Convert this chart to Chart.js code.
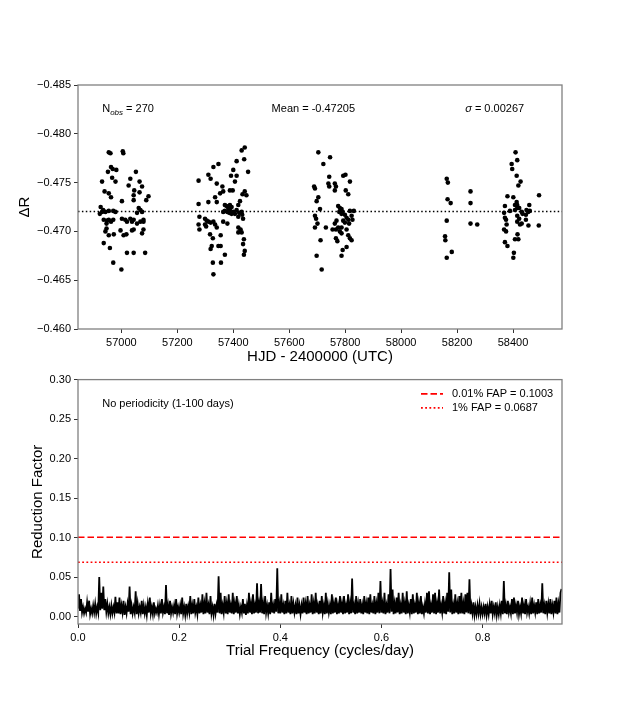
<!DOCTYPE html>
<html><head><meta charset="utf-8">
<script src="https://cdn.jsdelivr.net/npm/chart.js@4.4.1/dist/chart.umd.min.js"></script>
<style>
html,body{margin:0;padding:0;background:#fff;width:624px;height:702px;overflow:hidden;}
#top{position:absolute;left:0;top:0;width:624px;height:370px;}
#bot{position:absolute;left:0;top:370px;width:624px;height:332px;}
</style></head><body>
<div id="top"><canvas id="c1"></canvas></div>
<div id="bot"><canvas id="c2"></canvas></div>
<script>
// ---------- data ----------
const hjdSeason1 = [56955,56961,57005,57007,56963,56969,56982,56952,56931,56967,56979,57032,57052,57026,57065,57074,57046,56940,56955,56963,57044,57065,57097,57089,57002,57044,56926,56935,56931,56923,56943,56955,56971,56979,57062,57068,57074,57056,56937,56949,56955,56963,56947,56971,57002,57014,57020,57032,57038,57044,57056,57068,57079,57079,56947,56943,56955,56973,56997,57008,57018,57038,57044,57079,57074,56937,56959,57020,57044,57085,56971,57000];
const dRSeason1 = [-0.4781,-0.4780,-0.4782,-0.4780,-0.4766,-0.4764,-0.4763,-0.4761,-0.4751,-0.4755,-0.4751,-0.4754,-0.4761,-0.4747,-0.4751,-0.4746,-0.4742,-0.4741,-0.4739,-0.4735,-0.4737,-0.4740,-0.4736,-0.4732,-0.4731,-0.4732,-0.4725,-0.4722,-0.4720,-0.4718,-0.4720,-0.4721,-0.4721,-0.4720,-0.4724,-0.4722,-0.4720,-0.4719,-0.4712,-0.4711,-0.4712,-0.4710,-0.4708,-0.4712,-0.4713,-0.4712,-0.4710,-0.4713,-0.4710,-0.4712,-0.4708,-0.4710,-0.4710,-0.4712,-0.4703,-0.4700,-0.4696,-0.4697,-0.4701,-0.4696,-0.4697,-0.4701,-0.4702,-0.4702,-0.4698,-0.4688,-0.4683,-0.4678,-0.4678,-0.4678,-0.4668,-0.4661];

const hjdSeason2 = [57441,57430,57439,57412,57347,57329,57453,57400,57392,57412,57311,57319,57276,57406,57341,57361,57364,57398,57388,57353,57441,57447,57433,57335,57341,57311,57276,57424,57418,57370,57376,57388,57394,57382,57388,57379,57386,57394,57400,57370,57406,57412,57421,57430,57432,57435,57418,57364,57279,57299,57305,57311,57319,57299,57303,57329,57335,57341,57276,57279,57364,57379,57418,57426,57418,57430,57317,57327,57355,57438,57435,57323,57319,57347,57355,57370,57441,57438,57327,57356,57329];
const dRSeason2 = [-0.4786,-0.4783,-0.4774,-0.4772,-0.4769,-0.4766,-0.4761,-0.4763,-0.4757,-0.4757,-0.4758,-0.4754,-0.4752,-0.4751,-0.4749,-0.4746,-0.4741,-0.4742,-0.4742,-0.4739,-0.4741,-0.4737,-0.4738,-0.4735,-0.4730,-0.4730,-0.4728,-0.4731,-0.4727,-0.4727,-0.4726,-0.4727,-0.4725,-0.4724,-0.4722,-0.4720,-0.4719,-0.4718,-0.4720,-0.4721,-0.4718,-0.4722,-0.4719,-0.4720,-0.4717,-0.4713,-0.4715,-0.4720,-0.4715,-0.4713,-0.4711,-0.4710,-0.4709,-0.4707,-0.4705,-0.4710,-0.4707,-0.4704,-0.4707,-0.4702,-0.4710,-0.4708,-0.4704,-0.4702,-0.4699,-0.4699,-0.4697,-0.4693,-0.4696,-0.4692,-0.4687,-0.4685,-0.4682,-0.4685,-0.4685,-0.4676,-0.4680,-0.4676,-0.4668,-0.4668,-0.4656];

const hjdSeason3 = [57704,57746,57722,57743,57793,57801,57817,57740,57743,57763,57767,57763,57689,57692,57802,57811,57704,57698,57775,57781,57787,57791,57779,57710,57787,57817,57831,57799,57805,57811,57823,57826,57692,57696,57701,57692,57793,57799,57769,57763,57775,57814,57787,57731,57755,57767,57781,57787,57805,57811,57817,57823,57767,57772,57712,57805,57791,57787,57698,57716];
const dRSeason3 = [-0.4781,-0.4776,-0.4769,-0.4756,-0.4757,-0.4758,-0.4751,-0.4749,-0.4746,-0.4749,-0.4746,-0.4742,-0.4746,-0.4744,-0.4742,-0.4738,-0.4735,-0.4731,-0.4726,-0.4724,-0.4723,-0.4720,-0.4720,-0.4723,-0.4718,-0.4721,-0.4721,-0.4717,-0.4714,-0.4712,-0.4716,-0.4712,-0.4716,-0.4713,-0.4708,-0.4704,-0.4711,-0.4709,-0.4711,-0.4708,-0.4704,-0.4708,-0.4704,-0.4704,-0.4702,-0.4702,-0.4700,-0.4698,-0.4702,-0.4696,-0.4693,-0.4691,-0.4693,-0.4690,-0.4691,-0.4684,-0.4681,-0.4675,-0.4675,-0.4661];

const hjdSeason4 = [58163,58167,58166,58177,58163,58157,58158,58181,58163,58248,58248,58248,58272];
const dRSeason4 = [-0.4754,-0.4750,-0.4733,-0.4729,-0.4711,-0.4695,-0.4691,-0.4679,-0.4673,-0.4741,-0.4729,-0.4708,-0.4707];

const hjdSeason5 = [58409,58415,58395,58397,58413,58427,58419,58380,58401,58493,58413,58407,58371,58415,58422,58458,58407,58415,58389,58431,58448,58454,58460,58434,58368,58371,58375,58415,58422,58446,58415,58425,58446,58431,58377,58455,58492,58368,58375,58416,58419,58407,58371,58380,58403,58401];
const dRSeason5 = [-0.4781,-0.4773,-0.4769,-0.4764,-0.4757,-0.4751,-0.4747,-0.4736,-0.4735,-0.4737,-0.4730,-0.4727,-0.4726,-0.4727,-0.4724,-0.4727,-0.4722,-0.4724,-0.4721,-0.4720,-0.4722,-0.4720,-0.4721,-0.4718,-0.4719,-0.4714,-0.4712,-0.4716,-0.4713,-0.4717,-0.4710,-0.4707,-0.4712,-0.4708,-0.4707,-0.4706,-0.4706,-0.4702,-0.4700,-0.4697,-0.4692,-0.4692,-0.4689,-0.4685,-0.4678,-0.4673];

const nObs = 270;
const meanDeltaR = -0.47205;
const sigmaDeltaR = 0.00267;

const hjdTicks = [57000,57200,57400,57600,57800,58000,58200,58400];
const deltaRTicks = [-0.485,-0.480,-0.475,-0.470,-0.465,-0.460];
const hjdMin = 56845, hjdMax = 58575;
const deltaRMin = -0.485, deltaRMax = -0.460;

// periodogram: reduction factor on a uniform trial-frequency grid (0.002 cycles/day)
const freqStart = 0.0, freqStep = 0.002;
const reductionFactor = [
0.010,0.028,0.007,0.022,0.005,0.012,0.004,0.010,0.005,0.018,0.006,0.020,0.003,0.010,0.004,0.014,0.005,0.016,0.004,0.012,
0.005,0.050,0.008,0.030,0.010,0.038,0.008,0.022,0.006,0.016,0.004,0.012,0.003,0.014,0.004,0.012,0.005,0.025,0.004,0.018,
0.004,0.024,0.003,0.014,0.005,0.020,0.002,0.012,0.004,0.016,0.006,0.038,0.003,0.014,0.004,0.012,0.005,0.032,0.003,0.016,
0.004,0.012,0.005,0.020,0.003,0.014,0.004,0.012,0.002,0.016,0.005,0.024,0.004,0.012,0.003,0.018,0.004,0.010,0.005,0.014,
0.003,0.014,0.004,0.022,0.005,0.012,0.003,0.040,0.004,0.014,0.002,0.020,0.004,0.012,0.005,0.014,0.003,0.022,0.004,0.012,
0.005,0.014,0.003,0.024,0.004,0.012,0.002,0.016,0.004,0.013,0.005,0.026,0.003,0.014,0.004,0.022,0.005,0.012,0.003,0.024,
0.004,0.014,0.005,0.028,0.003,0.016,0.004,0.030,0.005,0.014,0.003,0.026,0.004,0.012,0.002,0.016,0.004,0.014,0.005,0.051,
0.004,0.030,0.003,0.014,0.005,0.026,0.004,0.016,0.003,0.028,0.005,0.014,0.004,0.030,0.003,0.016,0.005,0.026,0.004,0.014,
0.003,0.012,0.005,0.022,0.004,0.016,0.002,0.014,0.004,0.030,0.005,0.016,0.003,0.028,0.004,0.014,0.005,0.042,0.004,0.016,
0.005,0.041,0.004,0.016,0.003,0.026,0.005,0.014,0.004,0.018,0.003,0.030,0.005,0.014,0.004,0.022,0.006,0.061,0.004,0.016,
0.004,0.028,0.005,0.014,0.003,0.020,0.004,0.030,0.005,0.014,0.003,0.026,0.004,0.016,0.005,0.014,0.003,0.024,0.004,0.014,
0.003,0.014,0.004,0.024,0.005,0.016,0.003,0.026,0.004,0.014,0.005,0.028,0.003,0.016,0.004,0.030,0.005,0.014,0.003,0.020,
0.004,0.026,0.005,0.014,0.003,0.030,0.004,0.016,0.005,0.014,0.003,0.028,0.004,0.016,0.005,0.024,0.003,0.014,0.004,0.026,
0.005,0.016,0.003,0.026,0.004,0.014,0.005,0.028,0.003,0.016,0.004,0.048,0.005,0.014,0.003,0.026,0.004,0.016,0.005,0.022,
0.004,0.014,0.003,0.026,0.005,0.016,0.004,0.024,0.003,0.028,0.005,0.014,0.004,0.026,0.003,0.016,0.005,0.030,0.004,0.045,
0.005,0.016,0.004,0.030,0.003,0.014,0.005,0.028,0.004,0.060,0.006,0.034,0.003,0.016,0.004,0.024,0.005,0.030,0.003,0.014,
0.004,0.030,0.005,0.016,0.003,0.032,0.004,0.014,0.005,0.022,0.003,0.028,0.004,0.014,0.005,0.030,0.003,0.016,0.004,0.026,
0.003,0.012,0.004,0.016,0.005,0.030,0.004,0.032,0.003,0.014,0.005,0.028,0.004,0.030,0.003,0.016,0.005,0.034,0.004,0.014,
0.005,0.026,0.004,0.016,0.003,0.030,0.006,0.056,0.005,0.034,0.003,0.014,0.004,0.028,0.005,0.016,0.003,0.026,0.004,0.030,
0.004,0.016,0.003,0.028,0.005,0.030,0.004,0.047,0.003,0.014,0.004,0.018,0.002,0.012,0.003,0.014,0.004,0.016,0.003,0.012,
0.003,0.012,0.004,0.016,0.002,0.012,0.003,0.015,0.004,0.020,0.003,0.012,0.004,0.018,0.002,0.012,0.003,0.014,0.004,0.020,
0.003,0.045,0.004,0.014,0.003,0.020,0.005,0.012,0.004,0.022,0.003,0.024,0.004,0.014,0.005,0.020,0.003,0.012,0.004,0.024,
0.004,0.014,0.003,0.022,0.005,0.012,0.004,0.016,0.003,0.024,0.004,0.014,0.005,0.018,0.003,0.022,0.004,0.014,0.005,0.042,
0.004,0.014,0.003,0.020,0.005,0.016,0.004,0.022,0.003,0.014,0.005,0.020,0.004,0.024,0.003,0.016,0.005,0.030,0.035
];
const fap001 = 0.1003, fap1 = 0.0687;
const freqTicks = [0.0,0.2,0.4,0.6,0.8];
const rfTicks = [0.00,0.05,0.10,0.15,0.20,0.25,0.30];
const freqMin = 0.0, freqMax = 0.957;
const rfMin = -0.0095, rfMax = 0.30;

// ---------- styling ----------
const FONT = '"Liberation Sans", Arial, Helvetica, sans-serif';
Chart.defaults.font.family = FONT;
Chart.defaults.font.size = 11;
Chart.defaults.color = '#000';

const fixedTicks = list => scale => { scale.ticks = list.map(v => ({value: v})); };
const minusFmt = d => v => (v < 0 ? '\u2212' : '') + Math.abs(v).toFixed(d);

const gridOpts = {display:true, drawOnChartArea:false, drawTicks:true, tickLength:4, tickColor:'#333', tickWidth:1};

const framePlugin = {
  id:'frame',
  afterDatasetsDraw(chart){
    const {ctx, chartArea:a} = chart;
    ctx.save();
    ctx.strokeStyle = '#808080'; ctx.lineWidth = 1.3;
    ctx.strokeRect(a.left, a.top, a.right - a.left, a.bottom - a.top);
    ctx.restore();
  }
};

const statsPlugin = {
  id:'stats',
  afterDraw(chart){
    const {ctx, chartArea:a} = chart;
    const w = a.right - a.left, h = a.bottom - a.top;
    const y = a.top + 0.1*h;
    ctx.save();
    ctx.fillStyle = '#000'; ctx.textBaseline = 'middle'; ctx.textAlign = 'left';
    let x = a.left + 0.05*w;
    ctx.font = '11px ' + FONT; ctx.fillText('N', x, y); x += ctx.measureText('N').width;
    ctx.font = 'italic 8px ' + FONT; ctx.fillText('obs', x, y + 3); x += ctx.measureText('obs').width;
    ctx.font = '11px ' + FONT; ctx.fillText(' = ' + nObs, x, y);
    ctx.fillText('Mean = ' + meanDeltaR.toFixed(5), a.left + 0.4*w, y);
    x = a.left + 0.8*w;
    ctx.font = 'italic 11px ' + FONT; ctx.fillText('\u03c3', x, y); x += ctx.measureText('\u03c3').width;
    ctx.font = '11px ' + FONT; ctx.fillText(' = ' + sigmaDeltaR.toFixed(5), x, y);
    ctx.restore();
  }
};

const periodPlugin = {
  id:'periodText',
  afterDraw(chart){
    const {ctx, chartArea:a} = chart;
    const w = a.right - a.left, h = a.bottom - a.top;
    ctx.save();
    ctx.fillStyle = '#000'; ctx.textBaseline = 'middle'; ctx.textAlign = 'left';
    ctx.font = '11px ' + FONT;
    ctx.fillText('No periodicity (1-100 days)', a.left + 0.05*w, a.top + 0.1*h);
    const rows = [
      {label:'0.01% FAP = ' + fap001.toFixed(4), dash:[6.5,3], y:a.top + 14.3},
      {label:'1% FAP = ' + fap1.toFixed(4), dash:[1.8,2.4], y:a.top + 28.3}
    ];
    rows.forEach(r => {
      ctx.strokeStyle = '#ff0000'; ctx.lineWidth = 1.6; ctx.setLineDash(r.dash);
      ctx.beginPath(); ctx.moveTo(a.right - 141, r.y); ctx.lineTo(a.right - 119, r.y); ctx.stroke();
      ctx.setLineDash([]);
      ctx.fillText(r.label, a.right - 110, r.y);
    });
    ctx.restore();
  }
};

// ---------- top chart ----------
const lightCurve = [];
[[hjdSeason1,dRSeason1],[hjdSeason2,dRSeason2],[hjdSeason3,dRSeason3],[hjdSeason4,dRSeason4],[hjdSeason5,dRSeason5]]
  .forEach(([xs, ys]) => xs.forEach((x, i) => lightCurve.push({x, y: ys[i]})));

new Chart(document.getElementById('c1'), {
  type:'scatter',
  data:{datasets:[
    {data: lightCurve, pointRadius:2.3, pointBackgroundColor:'#000', pointBorderColor:'#000', pointBorderWidth:0, showLine:false},
    {data:[{x:hjdMin, y:meanDeltaR},{x:hjdMax, y:meanDeltaR}], showLine:true, borderColor:'#000', borderWidth:1.5, borderDash:[1.5,2.4], pointRadius:0}
  ]},
  options:{
    responsive:true, maintainAspectRatio:false, animation:false,
    layout:{padding:{left:0, right:62, top:85, bottom:0}},
    plugins:{legend:{display:false}, tooltip:{enabled:false}},
    scales:{
      x:{type:'linear', min:hjdMin, max:hjdMax,
         afterBuildTicks: fixedTicks(hjdTicks),
         afterFit(s){ s.height = 41; },
         ticks:{callback: v => String(v), maxRotation:0, autoSkip:false, padding:3, color:'#000'},
         grid:gridOpts, border:{display:false},
         title:{display:true, text:'HJD - 2400000 (UTC)', font:{size:15}, color:'#000', padding:{top:0, bottom:4}}},
      y:{type:'linear', reverse:true, min:deltaRMin, max:deltaRMax,
         afterBuildTicks: fixedTicks(deltaRTicks),
         afterFit(s){ s.width = 78; },
         ticks:{callback: minusFmt(3), autoSkip:false, padding:3, color:'#000'},
         grid:gridOpts, border:{display:false},
         title:{display:true, text:'\u0394R', font:{size:15}, color:'#000', padding:{top:15.5, bottom:0}}}
    }
  },
  plugins:[framePlugin, statsPlugin]
});

// ---------- bottom chart ----------
const periodogram = reductionFactor.map((v, i) => ({x: freqStart + i*freqStep, y: v}));

new Chart(document.getElementById('c2'), {
  type:'scatter',
  data:{datasets:[
    {data: periodogram, showLine:true, borderColor:'#000', borderWidth:1.8, pointRadius:0, tension:0},
    {data:[{x:freqMin, y:fap001},{x:freqMax, y:fap001}], showLine:true, borderColor:'#ff0000', borderWidth:1.6, borderDash:[6.5,3], pointRadius:0},
    {data:[{x:freqMin, y:fap1},{x:freqMax, y:fap1}], showLine:true, borderColor:'#ff0000', borderWidth:1.6, borderDash:[1.8,2.4], pointRadius:0}
  ]},
  options:{
    responsive:true, maintainAspectRatio:false, animation:false,
    layout:{padding:{left:0, right:62, top:9, bottom:0}},
    plugins:{legend:{display:false}, tooltip:{enabled:false}},
    scales:{
      x:{type:'linear', min:freqMin, max:freqMax,
         afterBuildTicks: fixedTicks(freqTicks),
         afterFit(s){ s.height = 78; },
         ticks:{callback: v => v.toFixed(1), maxRotation:0, autoSkip:false, padding:3, color:'#000'},
         grid:gridOpts, border:{display:false},
         title:{display:true, text:'Trial Frequency (cycles/day)', font:{size:15}, color:'#000', padding:{top:0, bottom:42}}},
      y:{type:'linear', min:rfMin, max:rfMax,
         afterBuildTicks: fixedTicks(rfTicks),
         afterFit(s){ s.width = 78; },
         ticks:{callback: v => v.toFixed(2), autoSkip:false, padding:3, color:'#000'},
         grid:gridOpts, border:{display:false},
         title:{display:true, text:'Reduction Factor', font:{size:15}, color:'#000', padding:{top:28.5, bottom:0}}}
    }
  },
  plugins:[framePlugin, periodPlugin]
});
</script>
</body></html>
